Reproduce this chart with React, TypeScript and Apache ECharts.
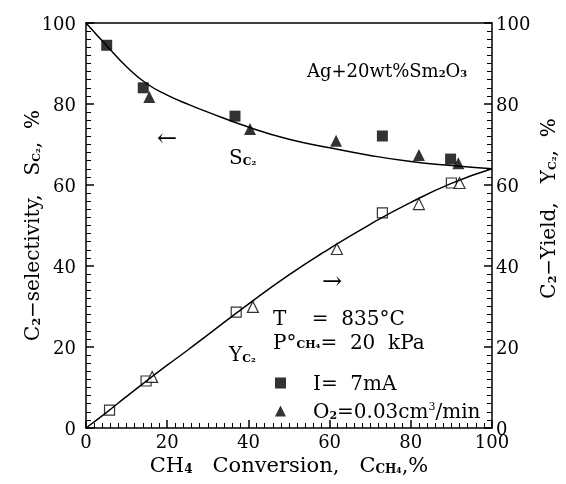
import React, { useEffect, useRef } from 'react';
import * as echarts from 'echarts';

// Smooth fitted curves
const curveX = [0, 5, 10, 15, 20, 25, 30, 40, 50, 60, 70, 80, 90, 100];
const selCurve = [100, 94.5, 89.2, 85.0, 82.2, 80.0, 78.0, 74.3, 71.3, 69.2, 67.3, 65.8, 64.8, 64.0];
const yieldCurve = [0, 3.8, 7.8, 11.7, 15.5, 19.2, 23.0, 30.6, 37.8, 44.3, 50.3, 55.7, 60.4, 64.0];

// Measured points
const selSquareX = [5.1, 14.1, 36.7, 73.0, 89.8];
const selSquareY = [94.5, 84.0, 77.0, 72.1, 66.4];
const selTriX = [15.6, 40.4, 61.6, 82.0, 91.7];
const selTriY = [81.7, 73.8, 70.9, 67.4, 65.4];
const yldSquareX = [5.8, 14.8, 37.0, 73.0, 90.0];
const yldSquareY = [4.4, 11.6, 28.6, 53.1, 60.5];
const yldTriX = [16.3, 41.1, 61.8, 82.0, 92.0];
const yldTriY = [12.6, 29.9, 44.2, 55.3, 60.5];

const FONT = 'DejaVu Serif';
const W = 'normal' as const;
const sq = 'I=  7mA';
const tri = 'O2=0.03cm3/min';

const zip = (xs: number[], ys: number[]) => xs.map((x, i) => [x, ys[i]]);

const subStyle = { fontFamily: FONT, fontWeight: 'bold' as const, fontSize: 11, color: '#000', padding: [8, 0, 0, 0] };
const supStyle = { fontFamily: FONT, fontWeight: W, fontSize: 11, color: '#000', padding: [0, 0, 9, 0] };

const tickAxis = (inside: boolean) => ({
  type: 'value',
  min: 0,
  max: 100,
  interval: 20,
  splitLine: { show: false },
  axisLine: { show: true, onZero: false, lineStyle: { color: '#000', width: 1.5 } },
  axisTick: { show: true, inside, length: 8, lineStyle: { color: '#000', width: 1.5 } },
  minorTick: { show: true, splitNumber: 10, length: 5, lineStyle: { color: '#000', width: 1 } },
});

export default function App() {
  const ref = useRef<HTMLDivElement>(null);
  useEffect(() => {
    if (!ref.current) return;
    const chart = echarts.init(ref.current, undefined, { renderer: 'svg' });
    const axisLabel = { fontFamily: FONT, fontWeight: W, fontSize: 18, color: '#000' };
    const option: any = {
      animation: false,
      grid: { left: 86, right: 69, top: 23, bottom: 56 },
      xAxis: [
        {
          ...tickAxis(true),
          position: 'bottom',
          name: 'CH{sub|4}   Conversion,   C{sub|CH₄},%',
          nameLocation: 'middle',
          nameGap: 26,
          nameMoveOverlap: false,
          nameTextStyle: {
            fontFamily: FONT, fontWeight: W, fontSize: 21, color: '#000',
            rich: { sub: { ...subStyle, fontSize: 12 } },
          },
          axisLabel: { ...axisLabel, margin: 4 },
        },
        {
          type: 'value', position: 'top', min: 0, max: 100,
          axisLine: { show: true, onZero: false, lineStyle: { color: '#000', width: 1.5 } },
          axisTick: { show: false }, axisLabel: { show: false }, splitLine: { show: false },
        },
      ],
      yAxis: [
        {
          ...tickAxis(true),
          position: 'left',
          name: 'C{sub|2}−selectivity,   S{sub|C₂},  %',
          nameLocation: 'middle',
          nameRotate: 90,
          nameGap: 44,
          nameMoveOverlap: false,
          nameTextStyle: {
            fontFamily: FONT, fontWeight: W, fontSize: 20, color: '#000',
            rich: { sub: subStyle },
          },
          axisLabel: { ...axisLabel, margin: 10 },
        },
        {
          ...tickAxis(true),
          position: 'right',
          name: 'C{sub|2}−Yield,   Y{sub|C₂},  %',
          nameLocation: 'middle',
          nameRotate: 90,
          nameGap: 46,
          nameMoveOverlap: false,
          nameTextStyle: {
            fontFamily: FONT, fontWeight: W, fontSize: 20, color: '#000',
            rich: { sub: subStyle },
            padding: [0, 0, 0, 34],
          },
          axisLabel: { ...axisLabel, margin: 4 },
        },
      ],
      legend: {
        data: [sq, tri],
        orient: 'vertical',
        left: 270,
        top: 368,
        itemWidth: 11,
        itemHeight: 11,
        itemGap: 8,
        selectedMode: false,
        formatter: (n: string) => (n === sq ? 'I=  7mA' : 'O{sub|2}=0.03cm{sup|3}/min'),
        textStyle: {
          fontFamily: FONT, fontWeight: W, fontSize: 20, color: '#000',
          padding: [0, 0, 0, 22],
          rich: { sub: subStyle, sup: supStyle },
        },
      },
      graphic: [
        {
          type: 'text', left: 307, top: 61,
          style: {
            text: 'Ag+20wt%Sm{sub|2}O{sub|3}', fill: '#000',
            font: `${W} 18px "${FONT}"`,
            rich: { sub: { ...subStyle, fontSize: 10, padding: [7, 0, 0, 0] } },
          },
        },
        { type: 'text', left: 157, top: 126, style: { text: '←', fill: '#000', font: `normal 24px "${FONT}"` } },
        { type: 'text', left: 322, top: 269, style: { text: '→', fill: '#000', font: `normal 24px "${FONT}"` } },
        {
          type: 'text', left: 229, top: 147,
          style: { text: 'S{sub|C₂}', fill: '#000', font: `${W} 20px "${FONT}"`, rich: { sub: subStyle } },
        },
        {
          type: 'text', left: 229, top: 344,
          style: { text: 'Y{sub|C₂}', fill: '#000', font: `${W} 20px "${FONT}"`, rich: { sub: subStyle } },
        },
        {
          type: 'text', left: 273, top: 308,
          style: { text: 'T    =  835°C', fill: '#000', font: `${W} 20px "${FONT}"` },
        },
        {
          type: 'text', left: 273, top: 332,
          style: {
            text: 'P°{sub|CH₄}=  20  kPa', fill: '#000', font: `${W} 20px "${FONT}"`,
            rich: { sub: { ...subStyle, padding: [5, 0, 0, 0] } },
          },
        },
      ],
      series: [
        {
          type: 'line', name: 'Sfit', data: zip(curveX, selCurve), smooth: true, symbol: 'none',
          yAxisIndex: 0, lineStyle: { color: '#000', width: 1.5 }, silent: true,
        },
        {
          type: 'line', name: 'Yfit', data: zip(curveX, yieldCurve), smooth: true, symbol: 'none',
          yAxisIndex: 1, lineStyle: { color: '#000', width: 1.5 }, silent: true,
        },
        {
          type: 'scatter', name: sq, data: zip(selSquareX, selSquareY), symbol: 'rect', symbolSize: 11,
          yAxisIndex: 0, itemStyle: { color: '#000' },
        },
        {
          type: 'scatter', name: tri, data: zip(selTriX, selTriY), symbol: 'triangle', symbolSize: 12,
          yAxisIndex: 0, itemStyle: { color: '#000' },
        },
        {
          type: 'scatter', name: 'Ysq', data: zip(yldSquareX, yldSquareY), symbol: 'rect', symbolSize: 10,
          yAxisIndex: 1, itemStyle: { color: '#fff', borderColor: '#000', borderWidth: 1.2 },
        },
        {
          type: 'scatter', name: 'Ytri', data: zip(yldTriX, yldTriY), symbol: 'triangle', symbolSize: 11,
          yAxisIndex: 1, itemStyle: { color: '#fff', borderColor: '#000', borderWidth: 1.2 },
        },
      ],
    };
    chart.setOption(option);
    return () => chart.dispose();
  }, []);
  return <div ref={ref} style={{ position: 'fixed', left: 0, top: 0, width: 566, height: 484 }} />;
}
